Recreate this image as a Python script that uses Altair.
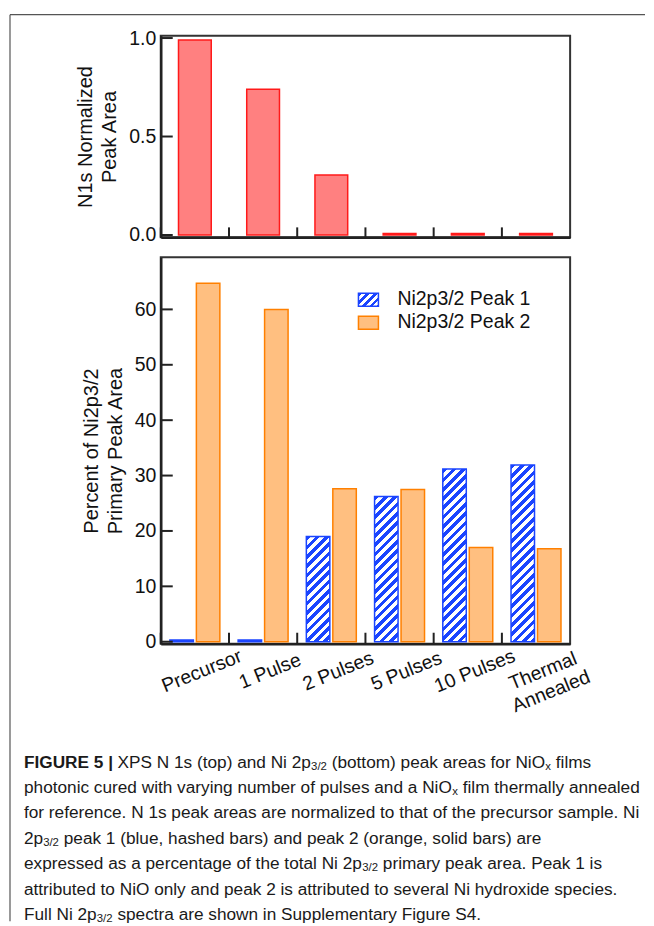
import math
import altair as alt
import pandas as pd

# ---------------- data ----------------
categories = ["Precursor", "1 Pulse", "2 Pulses", "5 Pulses", "10 Pulses", "Thermal Annealed"]
n1s_area = [0.99, 0.74, 0.305, 0.008, 0.008, 0.008]
peak1 = [0.3, 0.3, 19.0, 26.2, 31.2, 31.9]
peak2 = [64.7, 60.0, 27.6, 27.5, 17.0, 16.8]
series = ["Ni2p3/2 Peak 1", "Ni2p3/2 Peak 2"]
top_ticks = [0.0, 0.5, 1.0]
bottom_ticks = [0, 10, 20, 30, 40, 50, 60]
top_title = ["N1s Normalized", "Peak Area"]
bottom_title = ["Percent of Ni2p3/2", "Primary Peak Area"]

caption_lines = [
    [("FIGURE 5 |", "b"), (" XPS N 1s (top) and Ni 2p", "n"), ("3/2", "s"),
     (" (bottom) peak areas for NiO", "n"), ("x", "s"), (" films", "n")],
    [("photonic cured with varying number of pulses and a NiO", "n"), ("x", "s"),
     (" film thermally annealed", "n")],
    [("for reference. N 1s peak areas are normalized to that of the precursor sample. Ni", "n")],
    [("2p", "n"), ("3/2", "s"), (" peak 1 (blue, hashed bars) and peak 2 (orange, solid bars) are", "n")],
    [("expressed as a percentage of the total Ni 2p", "n"), ("3/2", "s"), (" primary peak area. Peak 1 is", "n")],
    [("attributed to NiO only and peak 2 is attributed to several Ni hydroxide species.", "n")],
    [("Full Ni 2p", "n"), ("3/2", "s"), (" spectra are shown in Supplementary Figure S4.", "n")],
]

# ---------------- layout / style ----------------
FONT = "Liberation Sans"
FS = 19.5
W = 410
H1 = 202
H2 = 387
GAP = 20
Y1 = [-0.012, 1.012]
Y2 = [-0.36, 69.4]
BLUE = "#1a44ff"
RED_FILL, RED_STROKE = "#ff8080", "#ff1a1a"
OR_FILL, OR_STROKE = "#ffbf80", "#ff8000"
AX = "#222222"
TXT = "#111111"

PAGE_PLOT_LEFT = 160
CAP_ORIGIN_Y = 34 + H1 + GAP + H2 + GAP  # page y of caption panel origin

PI, PO = 0.113, 0.345  # xOffset paddings
band = W / len(categories)
step = band / (2 - PI + 2 * PO)
bar_w = step * (1 - PI)
ppu2 = H2 / (Y2[1] - Y2[0])


def hatch(w, h, period=6.6, frac=0.5, color=BLUE):
    a = (1 / h + 1 / w) / (1 / h ** 2 + 1 / w ** 2)
    x2, y2 = a / h, a / w
    n = (w + h) / (math.sqrt(2) * period)
    stops = []
    k = 0
    while k / n < 1:
        o1 = k / n
        o2 = min((k + frac) / n, 1.0)
        o3 = min((k + 1) / n, 1.0)
        stops += [(o1, color), (o2, color), (o2, "white"), (o3, "white")]
        k += 1
    return alt.LinearGradient(
        gradient="linear", x1=0, y1=0, x2=x2, y2=y2,
        stops=[alt.GradientStop(offset=o, color=c) for o, c in stops],
    )


# ---------------- top chart ----------------
df_top = pd.DataFrame({"cat": categories, "v": n1s_area})
xs_top = alt.Scale(domain=categories, paddingInner=0, paddingOuter=0)
ys_top = alt.Scale(domain=Y1, nice=False, zero=False)
x_axis_top = alt.Axis(labels=False, ticks=False, title=None, domainColor=AX, domainWidth=2.5)
y_axis_top = alt.Axis(values=top_ticks, format=".1f", ticks=False, grid=False,
                      labelFont=FONT, labelFontSize=FS, labelColor=TXT, labelPadding=5,
                      title=top_title, titleFont=FONT, titleFontSize=20,
                      titleFontWeight="normal", titleColor=TXT, titlePadding=9,
                      titleLineHeight=24, domainColor=AX, domainWidth=2.5)

top_bars = alt.Chart(df_top).mark_bar(
    fill=RED_FILL, stroke=RED_STROKE, strokeWidth=1.5, width={"band": 0.48}
).encode(
    x=alt.X("cat:N", sort=categories, scale=xs_top, axis=x_axis_top),
    y=alt.Y("v:Q", scale=ys_top, axis=y_axis_top),
    y2=alt.datum(0),
)

top_yt = alt.Chart(pd.DataFrame({"v": top_ticks})).mark_rule(color=AX, strokeWidth=2).encode(
    y=alt.Y("v:Q", scale=ys_top, axis=y_axis_top), x=alt.value(0), x2=alt.value(12))
top_xt = alt.Chart(df_top).mark_rule(color=AX, strokeWidth=2).encode(
    x=alt.X("cat:N", sort=categories, scale=xs_top, bandPosition=0, axis=x_axis_top),
    y=alt.value(H1), y2=alt.value(H1 - 10))

top = alt.layer(top_bars, top_yt, top_xt).properties(
    width=W, height=H1, view=alt.ViewBackground(stroke="#333333", strokeWidth=2))

# ---------------- bottom chart ----------------
rows = []
for c, a, b in zip(categories, peak1, peak2):
    rows.append({"cat": c, "series": series[0], "v": a})
    rows.append({"cat": c, "series": series[1], "v": b})
df_bot = pd.DataFrame(rows)

xs_bot = alt.Scale(domain=categories, paddingInner=0, paddingOuter=0)
ys_bot = alt.Scale(domain=Y2, nice=False, zero=False)
xo = alt.XOffset("series:N", scale=alt.Scale(domain=series, paddingInner=PI, paddingOuter=PO))

x_axis_bot = alt.Axis(
    title=None, ticks=False, tickSize=0, labelAngle=-22, labelAlign="center",
    labelBaseline="middle", labelPadding=27, labelOffset=7, labelFont=FONT,
    labelFontSize=FS, labelColor=TXT, labelOverlap=False, labelLineHeight=22,
    labelExpr="datum.label == 'Thermal Annealed' ? ['Thermal', 'Annealed'] : datum.label",
    domainColor=AX, domainWidth=2.5)
y_axis_bot = alt.Axis(
    values=bottom_ticks, ticks=False, grid=False, labelFont=FONT, labelFontSize=FS,
    labelColor=TXT, labelPadding=5, title=bottom_title, titleFont=FONT, titleFontSize=20,
    titleFontWeight="normal", titleColor=TXT, titlePadding=9, titleLineHeight=24,
    domainColor=AX, domainWidth=2.5)

orange = alt.Chart(df_bot).transform_filter(
    alt.datum.series == series[1]
).mark_bar(fill=OR_FILL, stroke=OR_STROKE, strokeWidth=1.5).encode(
    x=alt.X("cat:N", sort=categories, scale=xs_bot, axis=x_axis_bot),
    xOffset=xo,
    y=alt.Y("v:Q", scale=ys_bot, axis=y_axis_bot),
    y2=alt.datum(0),
)

blue_layers = []
for c, v in zip(categories, peak1):
    h = v * ppu2
    fill = hatch(bar_w, h) if h > 6 else BLUE
    blue_layers.append(
        alt.Chart(df_bot).transform_filter(
            (alt.datum.series == series[0]) & (alt.datum.cat == c)
        ).mark_bar(fill=fill, stroke=BLUE, strokeWidth=1.5).encode(
            x=alt.X("cat:N", sort=categories, scale=xs_bot, axis=x_axis_bot),
            xOffset=xo,
            y=alt.Y("v:Q", scale=ys_bot, axis=y_axis_bot),
            y2=alt.datum(0),
        )
    )

bot_yt = alt.Chart(pd.DataFrame({"v": bottom_ticks})).mark_rule(color=AX, strokeWidth=2).encode(
    y=alt.Y("v:Q", scale=ys_bot, axis=y_axis_bot), x=alt.value(0), x2=alt.value(12))
bot_xt = alt.Chart(pd.DataFrame({"cat": categories})).mark_rule(color=AX, strokeWidth=2).encode(
    x=alt.X("cat:N", sort=categories, scale=xs_bot, bandPosition=0, axis=x_axis_bot),
    y=alt.value(H2), y2=alt.value(H2 - 11))

# legend (custom, to show the hatched symbol)
LX, LW, LH = 198, 20, 13
leg_rows = [36, 59]
leg1 = alt.Chart(pd.DataFrame({"s": [series[0]]})).mark_rect(
    fill=hatch(LW, LH, period=5.5), stroke=BLUE, strokeWidth=1.5).encode(
    x=alt.value(LX), x2=alt.value(LX + LW), y=alt.value(leg_rows[0]), y2=alt.value(leg_rows[0] + LH))
leg2 = alt.Chart(pd.DataFrame({"s": [series[1]]})).mark_rect(
    fill=OR_FILL, stroke=OR_STROKE, strokeWidth=1.5).encode(
    x=alt.value(LX), x2=alt.value(LX + LW), y=alt.value(leg_rows[1]), y2=alt.value(leg_rows[1] + LH))
leg_t1 = alt.Chart(pd.DataFrame({"s": [series[0]]})).mark_text(
    align="left", baseline="middle", font=FONT, fontSize=FS, color=TXT).encode(
    text="s:N", x=alt.value(LX + 39), y=alt.value(leg_rows[0] + 6))
leg_t2 = alt.Chart(pd.DataFrame({"s": [series[1]]})).mark_text(
    align="left", baseline="middle", font=FONT, fontSize=FS, color=TXT).encode(
    text="s:N", x=alt.value(LX + 39), y=alt.value(leg_rows[1] + 6))

bottom = alt.layer(orange, *blue_layers, bot_yt, bot_xt, leg1, leg2, leg_t1, leg_t2).properties(
    width=W, height=H2, view=alt.ViewBackground(stroke="#333333", strokeWidth=2))

# ---------------- caption ----------------
AR = {" ": 278, "(": 333, ")": 333, ",": 278, "-": 333, ".": 278, "/": 278, "|": 260, ":": 278,
      "A": 667, "B": 667, "C": 722, "D": 722, "E": 667, "F": 611, "G": 778, "H": 722, "I": 278,
      "J": 500, "K": 667, "L": 556, "M": 833, "N": 722, "O": 778, "P": 667, "Q": 778, "R": 722,
      "S": 667, "T": 611, "U": 722, "V": 667, "W": 944, "X": 667, "Y": 667, "Z": 611,
      "a": 556, "b": 556, "c": 500, "d": 556, "e": 556, "f": 278, "g": 556, "h": 556, "i": 222,
      "j": 222, "k": 500, "l": 222, "m": 833, "n": 556, "o": 556, "p": 556, "q": 556, "r": 333,
      "s": 500, "t": 278, "u": 556, "v": 500, "w": 722, "x": 500, "y": 500, "z": 500}


def tw(s, size):
    return sum(AR.get(ch, 556) for ch in s) * size / 1000.0


CAP_LEFT, CAP_RIGHT = 23, 640
ref_line = "".join(t for t, _ in caption_lines[2])
CAP_SIZE = (CAP_RIGHT - CAP_LEFT) / tw(ref_line, 1)
SUB_SIZE = CAP_SIZE * 0.66
CAP_X0 = CAP_LEFT - PAGE_PLOT_LEFT
line_y = [762, 787.5, 813, 838.5, 864, 889.5, 915]

seg = []
for li, line in enumerate(caption_lines):
    x = CAP_X0
    y = line_y[li] - CAP_ORIGIN_Y
    for text, kind in line:
        size = SUB_SIZE if kind == "s" else CAP_SIZE
        stripped = text.lstrip(" ")
        x += tw(text[: len(text) - len(stripped)], size)  # leading spaces are collapsed in SVG
        seg.append({"t": stripped, "x": x, "y": y + (4 if kind == "s" else 0), "k": kind})
        x += tw(stripped, size)
df_cap = pd.DataFrame(seg)


def cap_layer(kind, size, weight):
    return alt.Chart(df_cap).transform_filter(alt.datum.k == kind).mark_text(
        align="left", baseline="middle", font=FONT, fontSize=size, fontWeight=weight, color="#1a1a1a"
    ).encode(
        x=alt.X("x:Q", scale=None, axis=None),
        y=alt.Y("y:Q", scale=None, axis=None),
        text="t:N",
    )


frame_top = alt.Chart(pd.DataFrame({"a": [0]})).mark_rule(color="#555555", strokeWidth=1.2).encode(
    x=alt.value(9 - PAGE_PLOT_LEFT), x2=alt.value(645 - PAGE_PLOT_LEFT),
    y=alt.value(13 - CAP_ORIGIN_Y))
frame_left = alt.Chart(pd.DataFrame({"a": [0]})).mark_rule(color="#555555", strokeWidth=1.2).encode(
    x=alt.value(9 - PAGE_PLOT_LEFT), y=alt.value(13 - CAP_ORIGIN_Y), y2=alt.value(921 - CAP_ORIGIN_Y))

caption = alt.layer(
    cap_layer("n", CAP_SIZE, "normal"), cap_layer("s", SUB_SIZE, "normal"),
    cap_layer("b", CAP_SIZE, "bold"), frame_top, frame_left,
).properties(width=W, height=1, view=alt.ViewBackground(stroke="transparent", strokeWidth=0))

chart = alt.vconcat(top, bottom, caption, spacing=GAP).properties(
    bounds="flush", padding={"left": 1, "top": 5, "right": 0, "bottom": 0}
).configure_view(stroke="transparent")

chart.save("out.html", embed_options={"renderer": "svg", "actions": False})
